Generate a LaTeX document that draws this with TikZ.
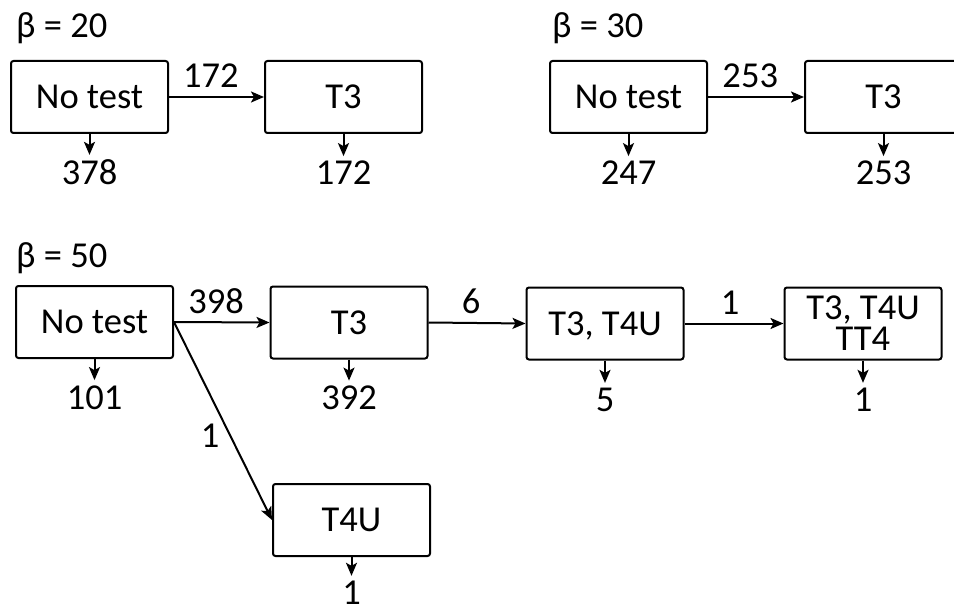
\documentclass[tikz,border=0pt]{standalone}
\usepackage{fontspec}
\setmainfont{Carlito}
\usetikzlibrary{arrows.meta}
\begin{document}
\begin{tikzpicture}[x=1pt,y=-1pt,
  txt/.style={font=\fontsize{36.5}{31}\selectfont},
  box/.style={txt, draw, line width=2pt, rounded corners=2.5pt, minimum width=157pt, minimum height=72pt, inner sep=0pt, align=center, text depth=0pt},
  lab/.style={txt, inner sep=0pt, anchor=base},
  elab/.style={txt, inner sep=0pt, anchor=base, yshift=9pt},
  arr/.style={line width=2pt, -{Stealth[length=13pt,width=11pt,inset=3pt]}},
  down/.style={arr, shorten >=5pt}
]
\useasboundingbox (0,0) rectangle (954,607);
\clip (0,0) rectangle (954,607);

% beta = 20
\node[lab, anchor=base west] (h20) at (16,38) {β = 20};
\node[box] (a20) at (89.5,97) {No test};
\node[box] (b20) at (343.5,97) {T3};
\draw[arr] (a20.east) -- node[elab, pos=0.44] (e20) {172} (b20.west);
\node[lab] (la20) at (89.5,185) {378};
\node[lab] (lb20) at (343.5,185) {172};
\draw[down] (a20.south) -- (a20.south |- la20.north);
\draw[down] (b20.south) -- (b20.south |- lb20.north);

% beta = 30
\node[lab, anchor=base west] (h30) at (552,38) {β = 30};
\node[box] (a30) at (628.5,97) {No test};
\node[box] (b30) at (883.5,97) {T3};
\draw[arr] (a30.east) -- node[elab, pos=0.44] (e30) {253} (b30.west);
\node[lab] (la30) at (628.5,185) {247};
\node[lab] (lb30) at (883.5,185) {253};
\draw[down] (a30.south) -- (a30.south |- la30.north);
\draw[down] (b30.south) -- (b30.south |- lb30.north);

% beta = 50
\node[lab, anchor=base west] (h50) at (16,267) {β = 50};
\node[box] (a50) at (94.5,322) {No test};
\node[box] (b50) at (349,322.5) {T3};
\node[box] (c50) at (605,323.5) {T3, T4U};
\node[box] (d50) at (863,323.5) {T3, T4U\\TT4};
\node[box] (f50) at (351.5,520) {T4U};
\draw[arr] (a50.east) -- node[elab, pos=0.44] (e50a) {398} (b50.west);
\draw[arr] (b50.east) -- node[elab, pos=0.44] (e50b) {6} (c50.west);
\draw[arr] (c50.east) -- node[elab, pos=0.46] (e50c) {1} (d50.west);
\draw[arr] (a50.east) -- node[txt, inner sep=0pt, pos=0.574, anchor=east, xshift=-10pt] (e50d) {1} (f50.west);
\node[lab] (la50) at (94.5,409) {101};
\node[lab] (lb50) at (349,409.5) {392};
\node[lab] (lc50) at (605,411.5) {5};
\node[lab] (ld50) at (863,411.5) {1};
\node[lab] (lf50) at (351.5,604.5) {1};
\draw[down] (a50.south) -- (a50.south |- la50.north);
\draw[down] (b50.south) -- (b50.south |- lb50.north);
\draw[down] (c50.south) -- (c50.south |- lc50.north);
\draw[down] (d50.south) -- (d50.south |- ld50.north);
\draw[down] (f50.south) -- (f50.south |- lf50.north);
\end{tikzpicture}
\end{document}
